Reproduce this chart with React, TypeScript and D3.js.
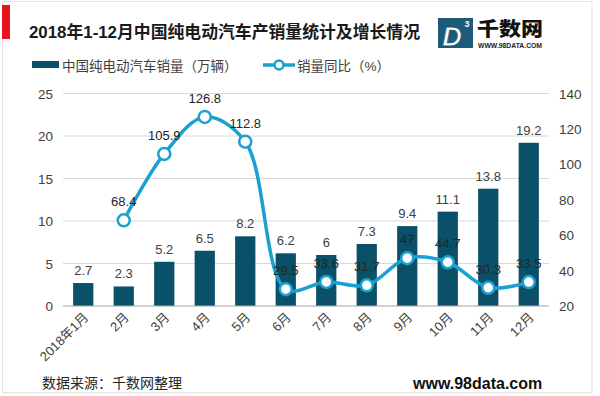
import React, { useEffect, useRef } from "react";
import * as d3 from "d3";

const months = ["2018年1月", "2月", "3月", "4月", "5月", "6月", "7月", "8月", "9月", "10月", "11月", "12月"];
const sales = [2.7, 2.3, 5.2, 6.5, 8.2, 6.2, 6, 7.3, 9.4, 11.1, 13.8, 19.2];
const yoy: (number | null)[] = [null, 68.4, 105.9, 126.8, 112.8, 29.5, 33.6, 31.7, 47, 44.7, 30.3, 33.5];
const leftTicks = [0, 5, 10, 15, 20, 25];
const rightTicks = [20, 40, 60, 80, 100, 120, 140];

const FONT = "'Liberation Sans', Arial, 'Noto Sans CJK SC', sans-serif";
const BAR = "#0b5069";
const LINE = "#1ba1d1";
const TXT = "#404040";

export default function App() {
  const svgRef = useRef<SVGSVGElement | null>(null);

  useEffect(() => {
    const svg = d3.select(svgRef.current);
    svg.selectAll("*").remove();

    const left = 63, right = 549, top = 93.5, bottom = 306;

    const x = d3.scaleBand<string>().domain(months).range([left, right]).paddingInner(0.5).paddingOuter(0.25);
    const yL = d3.scaleLinear().domain([0, 25]).range([bottom, top]);
    const yR = d3.scaleLinear().domain([20, 140]).range([bottom, top]);

    // frame
    svg.append("rect").attr("width", 600).attr("height", 396).attr("fill", "#fff");
    svg.append("rect")
      .attr("x", 2.5).attr("y", 1.5).attr("width", 589.5).attr("height", 391)
      .attr("fill", "none").attr("stroke", "#e3e3e3");

    // title
    svg.append("rect").attr("x", 2).attr("y", 5).attr("width", 8).attr("height", 34).attr("fill", "#e8141b");
    svg.append("text")
      .attr("x", 29).attr("y", 38)
      .attr("font-family", FONT).attr("font-size", 16.5).attr("font-weight", 700).attr("fill", "#1a1a1a")
      .attr("textLength", 391).attr("lengthAdjust", "spacingAndGlyphs")
      .text("2018年1-12月中国纯电动汽车产销量统计及增长情况");

    // logo
    const logo = svg.append("g");
    logo.append("rect").attr("x", 438).attr("y", 18).attr("width", 35).attr("height", 30).attr("fill", "#1c5a78");
    logo.append("text").attr("x", 452).attr("y", 45.5)
      .attr("font-family", FONT).attr("font-size", 27).attr("font-weight", 700).attr("font-style", "italic")
      .attr("text-anchor", "middle").attr("fill", "#fff").attr("stroke", "#1c5a78").attr("stroke-width", 0.8)
      .text("D");
    logo.append("text").attr("x", 467).attr("y", 27)
      .attr("font-family", FONT).attr("font-size", 9).attr("font-weight", 700)
      .attr("text-anchor", "middle").attr("fill", "#fff").text("3");
    logo.append("text").attr("x", 477).attr("y", 36)
      .attr("font-family", "'Noto Sans CJK SC', sans-serif").attr("font-size", 19).attr("font-weight", 900)
      .attr("fill", "#111").attr("textLength", 66).attr("lengthAdjust", "spacingAndGlyphs").text("千数网");
    logo.append("text").attr("x", 478).attr("y", 48)
      .attr("font-family", FONT).attr("font-size", 6.5).attr("font-weight", 700)
      .attr("fill", "#222").attr("textLength", 64).attr("lengthAdjust", "spacingAndGlyphs").text("WWW.98DATA.COM");

    // legend
    svg.append("rect").attr("x", 32).attr("y", 61).attr("width", 27).attr("height", 7).attr("fill", BAR);
    svg.append("text").attr("x", 62).attr("y", 70.5)
      .attr("font-family", FONT).attr("font-size", 13.5).attr("fill", TXT)
      .text("中国纯电动汽车销量（万辆）");
    svg.append("line").attr("x1", 263).attr("x2", 295).attr("y1", 65).attr("y2", 65)
      .attr("stroke", LINE).attr("stroke-width", 3.5);
    svg.append("circle").attr("cx", 279).attr("cy", 65).attr("r", 4.5)
      .attr("fill", "#fff").attr("stroke", LINE).attr("stroke-width", 2.5);
    svg.append("text").attr("x", 297).attr("y", 70.5)
      .attr("font-family", FONT).attr("font-size", 13.5).attr("fill", TXT)
      .text("销量同比（%）");

    // grid
    svg.append("g").selectAll("line").data(leftTicks.filter((d) => d > 0)).join("line")
      .attr("x1", left).attr("x2", right)
      .attr("y1", (d) => yL(d)).attr("y2", (d) => yL(d))
      .attr("stroke", "#d9d9d9").attr("stroke-width", 1.2);

    // left axis labels
    svg.append("g").selectAll("text").data(leftTicks).join("text")
      .attr("x", 53).attr("y", (d) => yL(d) + 5)
      .attr("text-anchor", "end").attr("font-family", FONT).attr("font-size", 13.5).attr("fill", TXT)
      .text((d) => d);

    // right axis labels
    svg.append("g").selectAll("text").data(rightTicks).join("text")
      .attr("x", 559).attr("y", (d) => yR(d) + 5)
      .attr("font-family", FONT).attr("font-size", 13.5).attr("fill", TXT)
      .text((d) => d);

    // bars
    svg.append("g").selectAll("rect").data(sales).join("rect")
      .attr("x", (_, i) => x(months[i])!)
      .attr("y", (d) => yL(d))
      .attr("width", x.bandwidth())
      .attr("height", (d) => yL(0) - yL(d))
      .attr("fill", BAR);

    // baseline
    svg.append("line").attr("x1", left).attr("x2", right).attr("y1", bottom).attr("y2", bottom)
      .attr("stroke", "#a6a6a6").attr("stroke-width", 1.2);

    // bar labels
    svg.append("g").selectAll("text").data(sales).join("text")
      .attr("x", (_, i) => x(months[i])! + x.bandwidth() / 2)
      .attr("y", (d) => yL(d) - 8)
      .attr("text-anchor", "middle").attr("font-family", FONT).attr("font-size", 13).attr("fill", TXT)
      .text((d) => d);

    // x labels
    svg.append("g").selectAll("text").data(months).join("text")
      .attr("transform", (d) => `translate(${x(d)! + x.bandwidth() / 2 + 6},${bottom + 12}) rotate(-45)`)
      .attr("text-anchor", "end").attr("font-family", FONT).attr("font-size", 13).attr("fill", TXT)
      .text((d) => d);

    // line
    const pts = yoy
      .map((v, i) => ({ v, m: months[i] }))
      .filter((p) => p.v !== null) as { v: number; m: string }[];
    const cx = (p: { m: string }) => x(p.m)! + x.bandwidth() / 2;

    const line = d3.line<{ v: number; m: string }>()
      .x(cx)
      .y((p) => yR(p.v))
      .curve(d3.curveCatmullRom.alpha(0.5));

    svg.append("path").datum(pts)
      .attr("fill", "none").attr("stroke", LINE).attr("stroke-width", 3.5)
      .attr("d", line);

    svg.append("g").selectAll("circle").data(pts).join("circle")
      .attr("cx", cx).attr("cy", (p) => yR(p.v)).attr("r", 6)
      .attr("fill", "#fff").attr("stroke", LINE).attr("stroke-width", 2.5);

    svg.append("g").selectAll("text").data(pts).join("text")
      .attr("x", cx).attr("y", (p) => yR(p.v) - 14)
      .attr("text-anchor", "middle").attr("font-family", FONT).attr("font-size", 13).attr("fill", "#262626")
      .text((p) => p.v);

    // footer
    svg.append("text").attr("x", 42).attr("y", 388)
      .attr("font-family", FONT).attr("font-size", 14).attr("fill", "#262626")
      .text("数据来源：千数网整理");
    svg.append("text").attr("x", 413).attr("y", 389)
      .attr("font-family", FONT).attr("font-size", 16).attr("font-weight", 700).attr("fill", "#111")
      .text("www.98data.com");
  }, []);

  return (
    <svg
      ref={svgRef}
      width={600}
      height={396}
      style={{ position: "absolute", left: 0, top: 0, background: "#fff" }}
    />
  );
}
